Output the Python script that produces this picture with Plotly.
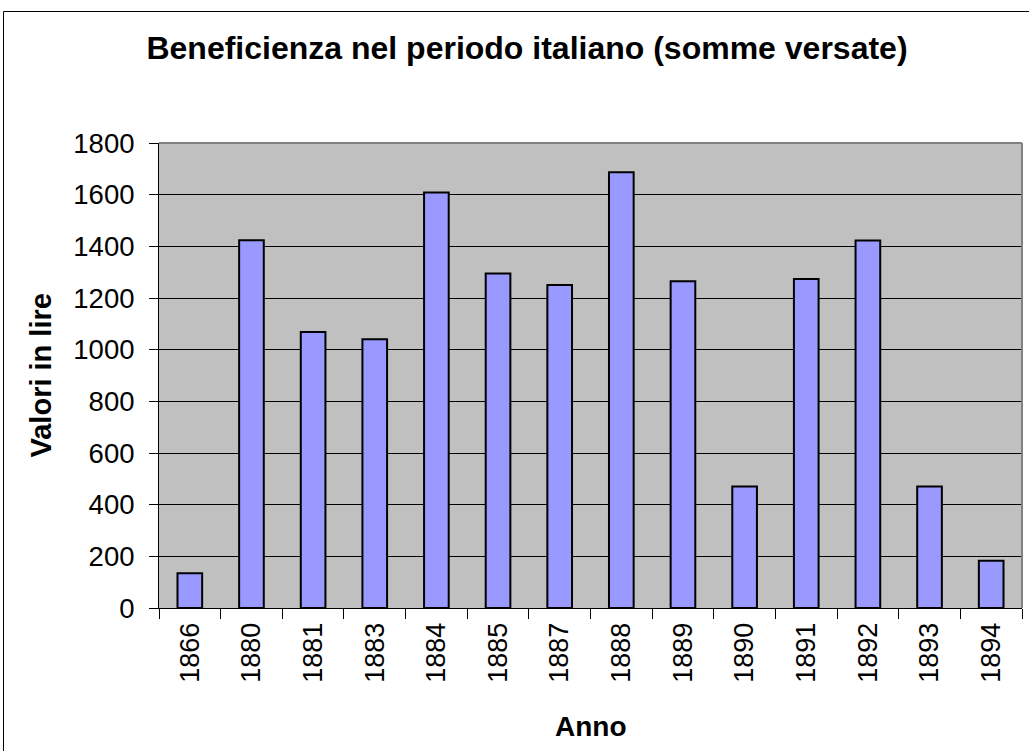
import plotly.graph_objects as go

anni = ["1866", "1880", "1881", "1883", "1884", "1885", "1887",
        "1888", "1889", "1890", "1891", "1892", "1893", "1894"]
valori = [135, 1424, 1068, 1040, 1608, 1295, 1250,
          1687, 1265, 470, 1274, 1423, 470, 183]
y_ticks = [0, 200, 400, 600, 800, 1000, 1200, 1400, 1600, 1800]

FONT = "Liberation Sans, Arial, sans-serif"
W, H = 1029, 751
L, R, T, B = 159, 7, 143, 143
pw, ph = W - L - R, H - T - B

def px_x(x):
    return (x - L) / pw

def px_y(y):
    return (H - B - y) / ph

fig = go.Figure()
fig.add_trace(go.Bar(
    x=anni, y=valori,
    marker=dict(color="#9999FF", line=dict(color="black", width=2)),
))

fig.update_layout(
    width=W, height=H,
    margin=dict(l=L, r=R, t=T, b=B, autoexpand=False),
    paper_bgcolor="white", plot_bgcolor="#C0C0C0",
    bargap=0.6, showlegend=False,
    font=dict(family=FONT, color="black"),
    title=dict(text="<b>Beneficienza nel periodo italiano (somme versate)</b>",
               x=527 / W, xanchor="center", y=1 - 48 / H, yanchor="middle",
               font=dict(size=32, family=FONT, color="black")),
    xaxis=dict(type="category", tickangle=-90, tickfont=dict(size=27),
               showline=True, linecolor="black", linewidth=1,
               ticks="outside", ticklen=10, tickcolor="black", tickson="boundaries",
               ticklabelstandoff=3,
               showgrid=False, zeroline=False),
    yaxis=dict(range=[0, 1800], tickvals=y_ticks, tickfont=dict(size=27.5),
               showline=True, linecolor="black", linewidth=1,
               ticks="outside", ticklen=9, tickcolor="black",
               ticklabelstandoff=9,
               showgrid=True, gridcolor="black", gridwidth=1, zeroline=False),
)

# gray border of plot area (top and right)
fig.add_shape(type="line", xref="paper", yref="paper", x0=0, x1=1, y0=1, y1=1,
              line=dict(color="#808080", width=2))
fig.add_shape(type="line", xref="paper", yref="paper", x0=1, x1=1, y0=0, y1=1,
              line=dict(color="#808080", width=2))
# outer chart frame
fig.add_shape(type="rect", xref="paper", yref="paper",
              x0=px_x(3.5), x1=px_x(1100), y0=px_y(900), y1=px_y(11.5),
              line=dict(color="black", width=1))

fig.add_annotation(text="<b>Valori in lire</b>", xref="paper", yref="paper",
                   x=px_x(40), y=0.5, xanchor="center", yanchor="middle",
                   textangle=-90, showarrow=False, font=dict(size=29, family=FONT))
fig.add_annotation(text="<b>Anno</b>", xref="paper", yref="paper",
                   x=0.5, y=px_y(726), xanchor="center", yanchor="middle",
                   showarrow=False, font=dict(size=28, family=FONT))

fig.write_html("out.html",
               config={"displayModeBar": False},
               post_script="document.body.style.margin='0';document.body.style.overflow='hidden';")
